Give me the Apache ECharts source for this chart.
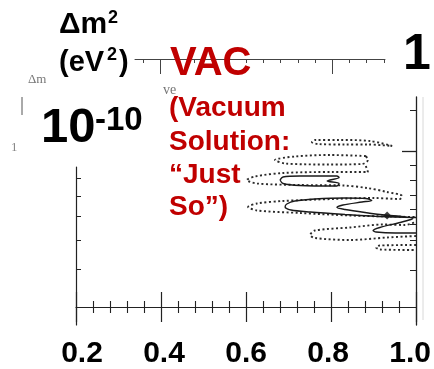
<!DOCTYPE html>
<html>
<head>
<meta charset="utf-8">
<script src="https://cdn.jsdelivr.net/npm/echarts@6.0.0/dist/echarts.min.js"></script>
<style>
html, body { margin: 0; padding: 0; background: #fff; }
#chart { width: 434px; height: 369px; }
</style>
</head>
<body>
<div id="chart"></div>
<script>
// x = sin^2(2theta), y = log10(dm^2 / eV^2)
var xTicks = [0.2, 0.4, 0.6, 0.8, 1.0];
var rightTicks = [-9.59, -10.14, -10.29, -10.44, -10.58, -10.73, -10.89, -11.19];
var rightMajor = [-10.0];
var leftTicks = [-10.27, -10.45, -10.65, -10.89, -11.18];
var topTicks = [0, 1, 2, 3, 4, 5, 6, 7, 8, 9, 10, 11, 12, 13, 14];
var topMajor = [1, 11];

// dotted (outer) contour lobes
var dotted1 = [[0.944, -9.95], [0.892, -9.90], [0.821, -9.89], [0.762, -9.89], [0.755, -9.91], [0.769, -9.93], [0.833, -9.935], [0.887, -9.935], [0.944, -9.95]];
var dotted2 = [[0.882, -10.05], [0.798, -10.04], [0.715, -10.055], [0.668, -10.09], [0.692, -10.125], [0.798, -10.135], [0.873, -10.13], [0.887, -10.09], [0.882, -10.05]];
var dotted3 = [[0.882, -10.15], [0.887, -10.21], [0.805, -10.21], [0.687, -10.22], [0.621, -10.255], [0.602, -10.29], [0.626, -10.325], [0.727, -10.34], [0.828, -10.345], [0.885, -10.37], [0.932, -10.41], [0.967, -10.45],
               [0.962, -10.48], [0.899, -10.47], [0.805, -10.48], [0.687, -10.50], [0.626, -10.525], [0.605, -10.56], [0.626, -10.595], [0.727, -10.62], [0.845, -10.645], [0.932, -10.655], [1.0, -10.66]];
var dotted4 = [[1.0, -10.85], [0.932, -10.865], [0.845, -10.89], [0.762, -10.87], [0.751, -10.84], [0.762, -10.795], [0.845, -10.765], [0.922, -10.735], [0.974, -10.74], [1.0, -10.71]];
var dotted5 = [[1.0, -10.94], [0.915, -10.945], [0.906, -10.965], [0.915, -10.985], [1.0, -10.99]];

// solid (inner) contours
var solid1 = [[0.680, -10.29], [0.687, -10.26], [0.727, -10.25], [0.814, -10.25], [0.819, -10.265], [0.791, -10.30], [0.819, -10.325], [0.814, -10.35], [0.727, -10.345], [0.687, -10.325], [0.680, -10.29]];
var solid2 = [[1.0, -10.82], [0.951, -10.82], [0.906, -10.81], [0.899, -10.795], [0.915, -10.765], [0.958, -10.72], [0.988, -10.685], [0.993, -10.67], [0.962, -10.653], [0.932, -10.643],
              [0.880, -10.615], [0.833, -10.585], [0.814, -10.565], [0.828, -10.54], [0.873, -10.51], [0.896, -10.495], [0.882, -10.475], [0.833, -10.47], [0.762, -10.48], [0.715, -10.50],
              [0.696, -10.53], [0.692, -10.56], [0.706, -10.59], [0.751, -10.61], [0.833, -10.635], [0.904, -10.653], [0.951, -10.66], [1.0, -10.665]];
var bestFit = [[0.932, -10.645]];

var FONT = '"Liberation Sans", Arial, sans-serif';
var RED = '#c00000';

function contour(data, dotted) {
    return {
        type: 'line',
        xAxisIndex: 0,
        yAxisIndex: 0,
        data: data,
        symbol: 'none',
        smooth: 0.3,
        silent: true,
        lineStyle: {
            color: dotted ? '#2a2a2a' : '#1a1a1a',
            width: dotted ? 1.9 : 1.4,
            type: dotted ? [2, 2.5] : 'solid'
        }
    };
}

function txt(str, x, y, size, color, weight, family) {
    return {
        type: 'text', x: x, y: y, z: 100,
        style: {
            text: str, fill: color,
            font: (weight || 'normal') + ' ' + size + 'px ' + (family || FONT),
            textVerticalAlign: 'middle', verticalAlign: 'middle'
        }
    };
}

var lineCol = '#222';
var chart = echarts.init(document.getElementById('chart'));
chart.setOption({
    animation: false,
    backgroundColor: '#fff',
    grid: [
        {left: 76, top: 97, width: 340, bottom: 44},
        {left: 76, top: 167, width: 340, bottom: 44},
        {left: 135, top: 59, width: 250, height: 10},
        {left: 82, right: 21, top: 290, height: 10}
    ],
    xAxis: [
        {gridIndex: 0, type: 'value', position: 'bottom', offset: -18, min: 0.2, max: 1.0, interval: 0.2,
            axisLine: {onZero: false, lineStyle: {color: lineCol, width: 1.2}},
            axisTick: {inside: true, length: 15, lineStyle: {color: lineCol, width: 1.2}},
            minorTick: {show: true, splitNumber: 5, length: 6, lineStyle: {color: lineCol, width: 1.1}},
            axisLabel: {show: false}, splitLine: {show: false}},
        {gridIndex: 0, type: 'value', position: 'bottom', offset: -18, min: 0.2, max: 1.0, interval: 0.2,
            axisLine: {show: false, onZero: false},
            axisTick: {inside: false, length: 15, lineStyle: {color: lineCol, width: 1.2}},
            minorTick: {show: true, splitNumber: 5, length: 6, lineStyle: {color: lineCol, width: 1.1}},
            axisLabel: {show: false}, splitLine: {show: false}},
        {gridIndex: 1, type: 'value', show: false, min: 0.2, max: 1.0},
        {gridIndex: 2, type: 'value', position: 'top', min: -0.47, max: 14.07,
            axisLine: {onZero: false, lineStyle: {color: '#444', width: 1}},
            axisTick: {inside: true, length: 4, customValues: topTicks, lineStyle: {color: '#444'}},
            axisLabel: {show: false}, splitLine: {show: false}},
        {gridIndex: 2, type: 'value', position: 'top', min: -0.47, max: 14.07,
            axisLine: {show: false, onZero: false},
            axisTick: {inside: true, length: 15, customValues: topMajor, lineStyle: {color: '#444'}},
            axisLabel: {show: false}, splitLine: {show: false}},
        {gridIndex: 3, type: 'value', position: 'bottom', min: 0.2, max: 1.0,
            axisLine: {show: false}, axisTick: {show: false}, splitLine: {show: false},
            axisLabel: {customValues: xTicks, margin: 39, color: '#000', fontSize: 30, fontWeight: 'bold', fontFamily: FONT,
                formatter: function (v) { return v.toFixed(1); }}}
    ],
    yAxis: [
        {gridIndex: 0, type: 'value', position: 'right', min: -11.74, max: -9.46,
            axisLine: {show: true, onZero: false, lineStyle: {color: lineCol, width: 1.3}},
            axisTick: {inside: true, length: 6, customValues: rightTicks, lineStyle: {color: lineCol}},
            axisLabel: {show: false}, splitLine: {show: false}},
        {gridIndex: 0, type: 'value', position: 'right', min: -11.74, max: -9.46,
            axisLine: {show: false},
            axisTick: {inside: true, length: 14, customValues: rightMajor, lineStyle: {color: lineCol, width: 1.3}},
            axisLabel: {show: false}, splitLine: {show: false}},
        {gridIndex: 1, type: 'value', position: 'left', min: -11.74, max: -10.16,
            axisLine: {show: true, onZero: false, lineStyle: {color: lineCol, width: 1.2}},
            axisTick: {inside: true, length: 5, customValues: leftTicks, lineStyle: {color: lineCol}},
            axisLabel: {show: false}, splitLine: {show: false}},
        {gridIndex: 2, type: 'value', show: false, min: 0, max: 1},
        {gridIndex: 3, type: 'value', show: false, min: 0, max: 1}
    ],
    series: [
        contour(dotted1, true),
        contour(dotted2, true),
        contour(dotted3, true),
        contour(dotted4, true),
        contour(dotted5, true),
        contour(solid1, false),
        contour(solid2, false),
        {type: 'scatter', xAxisIndex: 0, yAxisIndex: 0, data: bestFit, symbol: 'diamond', symbolSize: 8,
            itemStyle: {color: '#111'}, silent: true}
    ],
    graphic: [
        // bits of the scanned figure
        {type: 'line', z: 50, shape: {x1: 22, y1: 97, x2: 22, y2: 115}, style: {stroke: '#555', lineWidth: 1}},
        {type: 'line', z: 50, shape: {x1: 423, y1: 97, x2: 423, y2: 320}, style: {stroke: '#d8d8d8', lineWidth: 1}},
        txt('\u0394m', 28, 80, 13, '#777', 'normal', '"Liberation Serif", serif'),
        txt('ve', 163, 90, 14, '#777', 'normal', '"Liberation Serif", serif'),
        txt('1', 11, 148, 13, '#888', 'normal', '"Liberation Serif", serif'),
        // overlay labels
        txt('\u0394m', 59, 25, 30, '#000', 'bold'),
        txt('2', 108, 18, 18, '#000', 'bold'),
        txt('(eV', 59, 63, 29, '#000', 'bold'),
        txt('2', 107, 55, 18, '#000', 'bold'),
        txt(')', 119, 63, 29, '#000', 'bold'),
        txt('10', 41, 128, 49, '#000', 'bold'),
        txt('-10', 95, 121, 33, '#000', 'bold'),
        txt('1', 403, 55, 50, '#000', 'bold'),
        txt('VAC', 170, 64, 40, RED, 'bold'),
        txt('(Vacuum', 169, 108, 28, RED, 'bold'),
        txt('Solution:', 169, 142, 28, RED, 'bold'),
        txt('\u201cJust', 169, 175, 28, RED, 'bold'),
        txt('So\u201d)', 169, 207, 28, RED, 'bold')
    ]
});
</script>
</body>
</html>
